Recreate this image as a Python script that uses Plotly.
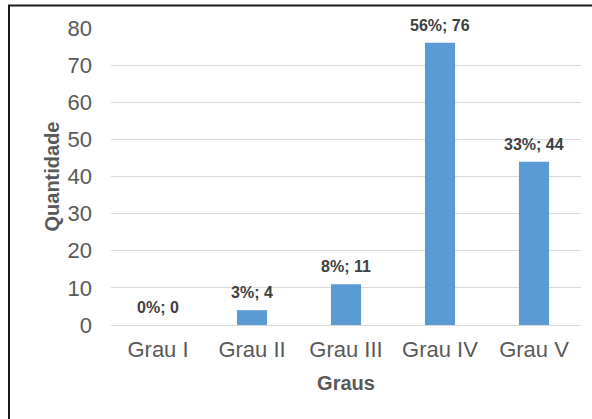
import plotly.graph_objects as go

categories = ["Grau I", "Grau II", "Grau III", "Grau IV", "Grau V"]
values = [0, 4, 11, 76, 44]
percent_labels = ["0%", "3%", "8%", "56%", "33%"]
y_ticks = [0, 10, 20, 30, 40, 50, 60, 70, 80]

labels = [f"{p}; {v}" for p, v in zip(percent_labels, values)]

W, H = 592, 419
L, R, T, B = 111, 11, 28, 94
pw, ph = W - L - R, H - T - B

FONT = "Liberation Sans, Arial"

fig = go.Figure(go.Bar(
    x=categories, y=values,
    marker=dict(color="#5B9BD5", line=dict(width=0)),
    hoverinfo="skip",
))

for c, v, lab in zip(categories, values, labels):
    fig.add_annotation(
        x=c, y=v, text=f"<b>{lab}</b>", showarrow=False,
        yanchor="bottom", yshift=7,
        font=dict(family=FONT, size=16, color="#404040"),
    )


def px_x(p):
    return (p - L) / pw


def px_y(p):
    return (H - B - p) / ph


fig.update_layout(
    width=W, height=H,
    margin=dict(l=L, r=R, t=T, b=B, autoexpand=False),
    paper_bgcolor="white", plot_bgcolor="white",
    bargap=0.68, showlegend=False,
    font=dict(family=FONT, color="#595959"),
    xaxis=dict(
        showline=True, linecolor="#D9D9D9", linewidth=1,
        tickfont=dict(size=22, color="#595959"), ticks="",
        ticklabelstandoff=5,
        title=dict(text="<b>Graus</b>", font=dict(size=20, color="#595959"), standoff=14),
    ),
    yaxis=dict(
        range=[0, 80], tickvals=y_ticks, showgrid=True, gridcolor="#D9D9D9",
        zeroline=False, showline=False, ticks="",
        tickfont=dict(size=22, color="#595959"), ticklabelstandoff=18,
        title=dict(text="<b>Quantidade</b>", font=dict(size=20, color="#595959"), standoff=2),
    ),
    shapes=[dict(
        type="rect", xref="paper", yref="paper",
        x0=px_x(9), x1=px_x(610), y0=px_y(5.5), y1=px_y(440),
        line=dict(color="#1a1a1a", width=2), fillcolor="rgba(0,0,0,0)", layer="above",
    )],
)

fig.write_html(
    "out.html",
    config={"displayModeBar": False},
    post_script="document.body.style.margin='0';",
)
